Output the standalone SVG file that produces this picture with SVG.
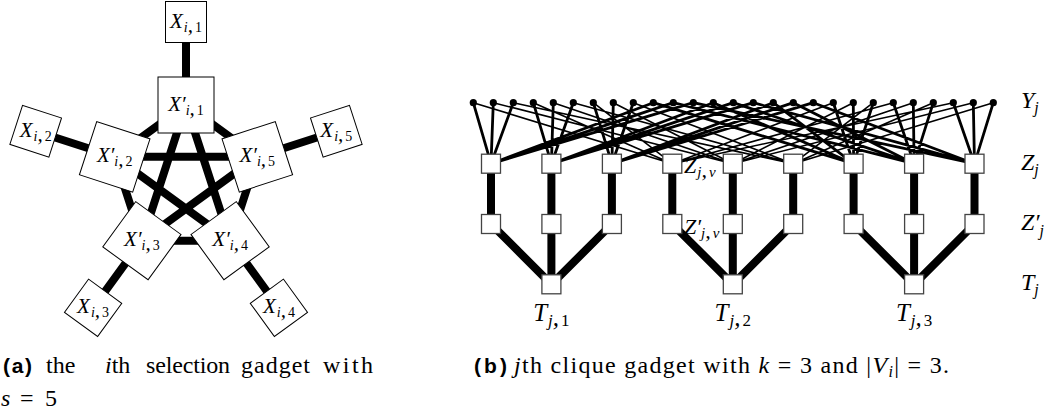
<svg xmlns="http://www.w3.org/2000/svg" width="1057" height="416" viewBox="0 0 1057 416">
<defs>
<style>
.box{fill:#fff;stroke:#000;stroke-width:1}
.sq{fill:#fff;stroke:#444;stroke-width:1.3}
.e8{stroke:#000;stroke-width:8;fill:none}
.thk{stroke:#000;stroke-width:2.8;fill:none}
.thn{stroke:#000;stroke-width:1.6;fill:none}
.m{font-family:"Liberation Serif",serif;font-style:italic;fill:#000}
.r{font-family:"Liberation Serif",serif;font-style:normal;fill:#000}
.n{font-style:normal}
.lb{font-family:"Liberation Sans",sans-serif;font-weight:bold;fill:#000}
.dot{fill:#000}
</style>
<rect id="bi" class="box" x="-28" y="-28" width="56" height="56"/>
<rect id="bo" class="box" x="-20.5" y="-20.5" width="41" height="41"/>
<rect id="zs" class="sq" x="-9.5" y="-9.5" width="19" height="19"/>
</defs>

<!-- (a) selection gadget -->
<g id="edges-a" class="e8">
<path d="M186 105L114.7 156.8L141.9 240.7L230.1 240.7L257.3 156.8Z"/>
<path d="M186 105L141.9 240.7M186 105L230.1 240.7M114.7 156.8L230.1 240.7M114.7 156.8L257.3 156.8M141.9 240.7L257.3 156.8"/>
<path d="M186 105L186 22M114.7 156.8L35.7 131.2M141.9 240.7L93.1 307.8M230.1 240.7L278.9 307.8M257.3 156.8L336.3 131.2"/>
</g>
<g id="Xp1"><use href="#bi" transform="translate(186 105)"/><text class="m" x="186" y="110.5" font-size="21" text-anchor="middle">X′<tspan font-size="14" dy="4">i</tspan>,<tspan class="n" font-size="14" dx="2">1</tspan></text></g>
<g id="Xp2"><use href="#bi" transform="translate(114.7 156.8) rotate(-72)"/><text class="m" x="114.7" y="162.3" font-size="21" text-anchor="middle">X′<tspan font-size="14" dy="4">i</tspan>,<tspan class="n" font-size="14" dx="2">2</tspan></text></g>
<g id="Xp3"><use href="#bi" transform="translate(141.9 240.7) rotate(-144)"/><text class="m" x="141.9" y="246.2" font-size="21" text-anchor="middle">X′<tspan font-size="14" dy="4">i</tspan>,<tspan class="n" font-size="14" dx="2">3</tspan></text></g>
<g id="Xp4"><use href="#bi" transform="translate(230.1 240.7) rotate(-216)"/><text class="m" x="230.1" y="246.2" font-size="21" text-anchor="middle">X′<tspan font-size="14" dy="4">i</tspan>,<tspan class="n" font-size="14" dx="2">4</tspan></text></g>
<g id="Xp5"><use href="#bi" transform="translate(257.3 156.8) rotate(-288)"/><text class="m" x="257.3" y="162.3" font-size="21" text-anchor="middle">X′<tspan font-size="14" dy="4">i</tspan>,<tspan class="n" font-size="14" dx="2">5</tspan></text></g>
<g id="X1"><use href="#bo" transform="translate(186 22)"/><text class="m" x="186" y="27.5" font-size="21" text-anchor="middle">X<tspan font-size="14" dx="1" dy="4">i</tspan>,<tspan class="n" font-size="14" dx="2">1</tspan></text></g>
<g id="X2"><use href="#bo" transform="translate(35.7 131.2) rotate(-72)"/><text class="m" x="35.7" y="136.7" font-size="21" text-anchor="middle">X<tspan font-size="14" dx="1" dy="4">i</tspan>,<tspan class="n" font-size="14" dx="2">2</tspan></text></g>
<g id="X3"><use href="#bo" transform="translate(93.1 307.8) rotate(-144)"/><text class="m" x="93.1" y="313.3" font-size="21" text-anchor="middle">X<tspan font-size="14" dx="1" dy="4">i</tspan>,<tspan class="n" font-size="14" dx="2">3</tspan></text></g>
<g id="X4"><use href="#bo" transform="translate(278.9 307.8) rotate(-216)"/><text class="m" x="278.9" y="313.3" font-size="21" text-anchor="middle">X<tspan font-size="14" dx="1" dy="4">i</tspan>,<tspan class="n" font-size="14" dx="2">4</tspan></text></g>
<g id="X5"><use href="#bo" transform="translate(336.3 131.2) rotate(-288)"/><text class="m" x="336.3" y="136.7" font-size="21" text-anchor="middle">X<tspan font-size="14" dx="1" dy="4">i</tspan>,<tspan class="n" font-size="14" dx="2">5</tspan></text></g>

<!-- (b) clique gadget -->
<g id="edges-b">
<path class="thk" d="M473.3 102.7L491 163.7M493.3 102.7L491 163.7M513.3 102.7L491 163.7M533.3 102.7L551.4 163.7M553.3 102.7L551.4 163.7M573.3 102.7L551.4 163.7M593.3 102.7L611.9 163.7M613.3 102.7L611.9 163.7M633.3 102.7L611.9 163.7M653.3 102.7L491 163.7M673.3 102.7L491 163.7M693.3 102.7L491 163.7M713.3 102.7L551.4 163.7M733.3 102.7L551.4 163.7M753.3 102.7L551.4 163.7M773.3 102.7L611.9 163.7M793.3 102.7L611.9 163.7M813.3 102.7L611.9 163.7M653.3 102.7L853.6 163.7M673.3 102.7L914.1 163.7M693.3 102.7L974.5 163.7M713.3 102.7L853.6 163.7M733.3 102.7L914.1 163.7M753.3 102.7L974.5 163.7M773.3 102.7L853.6 163.7M793.3 102.7L914.1 163.7M813.3 102.7L974.5 163.7M833.3 102.7L853.6 163.7M853.3 102.7L853.6 163.7M873.3 102.7L853.6 163.7M893.3 102.7L914.1 163.7M913.3 102.7L914.1 163.7M933.3 102.7L914.1 163.7M953.3 102.7L974.5 163.7M973.3 102.7L974.5 163.7M993.3 102.7L974.5 163.7"/>
<path class="thn" d="M473.3 102.7L672.3 163.7M493.3 102.7L732.8 163.7M513.3 102.7L793.2 163.7M533.3 102.7L672.3 163.7M553.3 102.7L732.8 163.7M573.3 102.7L793.2 163.7M593.3 102.7L672.3 163.7M613.3 102.7L732.8 163.7M633.3 102.7L793.2 163.7M833.3 102.7L672.3 163.7M853.3 102.7L732.8 163.7M873.3 102.7L793.2 163.7M893.3 102.7L672.3 163.7M913.3 102.7L732.8 163.7M933.3 102.7L793.2 163.7M953.3 102.7L672.3 163.7M973.3 102.7L732.8 163.7M993.3 102.7L793.2 163.7"/>
<path class="e8" d="M491 163.7V224M551.4 163.7V224M611.9 163.7V224M672.3 163.7V224M732.8 163.7V224M793.2 163.7V224M853.6 163.7V224M914.1 163.7V224M974.5 163.7V224"/>
<path class="e8" d="M491 224L551.4 284.3M551.4 224V284.3M611.9 224L551.4 284.3M672.3 224L732.8 284.3M732.8 224V284.3M793.2 224L732.8 284.3M853.6 224L914.1 284.3M914.1 224V284.3M974.5 224L914.1 284.3"/>
</g>
<g id="Y">
<circle class="dot" cx="473.3" cy="102.7" r="3.6"/><circle class="dot" cx="493.3" cy="102.7" r="3.6"/><circle class="dot" cx="513.3" cy="102.7" r="3.6"/><circle class="dot" cx="533.3" cy="102.7" r="3.6"/><circle class="dot" cx="553.3" cy="102.7" r="3.6"/><circle class="dot" cx="573.3" cy="102.7" r="3.6"/><circle class="dot" cx="593.3" cy="102.7" r="3.6"/><circle class="dot" cx="613.3" cy="102.7" r="3.6"/><circle class="dot" cx="633.3" cy="102.7" r="3.6"/><circle class="dot" cx="653.3" cy="102.7" r="3.6"/><circle class="dot" cx="673.3" cy="102.7" r="3.6"/><circle class="dot" cx="693.3" cy="102.7" r="3.6"/><circle class="dot" cx="713.3" cy="102.7" r="3.6"/><circle class="dot" cx="733.3" cy="102.7" r="3.6"/><circle class="dot" cx="753.3" cy="102.7" r="3.6"/><circle class="dot" cx="773.3" cy="102.7" r="3.6"/><circle class="dot" cx="793.3" cy="102.7" r="3.6"/><circle class="dot" cx="813.3" cy="102.7" r="3.6"/><circle class="dot" cx="833.3" cy="102.7" r="3.6"/><circle class="dot" cx="853.3" cy="102.7" r="3.6"/><circle class="dot" cx="873.3" cy="102.7" r="3.6"/><circle class="dot" cx="893.3" cy="102.7" r="3.6"/><circle class="dot" cx="913.3" cy="102.7" r="3.6"/><circle class="dot" cx="933.3" cy="102.7" r="3.6"/><circle class="dot" cx="953.3" cy="102.7" r="3.6"/><circle class="dot" cx="973.3" cy="102.7" r="3.6"/><circle class="dot" cx="993.3" cy="102.7" r="3.6"/>
</g>
<g id="Z">
<use href="#zs" x="491" y="163.7"/><use href="#zs" x="551.4" y="163.7"/><use href="#zs" x="611.9" y="163.7"/><use href="#zs" x="672.3" y="163.7"/><use href="#zs" x="732.8" y="163.7"/><use href="#zs" x="793.2" y="163.7"/><use href="#zs" x="853.6" y="163.7"/><use href="#zs" x="914.1" y="163.7"/><use href="#zs" x="974.5" y="163.7"/>
<text class="m" x="684" y="173" font-size="22">Z<tspan font-size="15" dx="1" dy="4">j</tspan>,<tspan font-size="15" dx="2">v</tspan></text>
</g>
<g id="Zp">
<use href="#zs" x="491" y="224"/><use href="#zs" x="551.4" y="224"/><use href="#zs" x="611.9" y="224"/><use href="#zs" x="672.3" y="224"/><use href="#zs" x="732.8" y="224"/><use href="#zs" x="793.2" y="224"/><use href="#zs" x="853.6" y="224"/><use href="#zs" x="914.1" y="224"/><use href="#zs" x="974.5" y="224"/>
<text class="m" x="684" y="234" font-size="22">Z′<tspan font-size="15" dy="4">j</tspan>,<tspan font-size="15" dx="2">v</tspan></text>
</g>
<g id="T1"><use href="#zs" x="551.4" y="284.3"/><text class="m" x="551.4" y="321" font-size="25" text-anchor="middle">T<tspan font-size="17" dx="1" dy="5">j</tspan>,<tspan class="n" font-size="17" dx="2">1</tspan></text></g>
<g id="T2"><use href="#zs" x="732.8" y="284.3"/><text class="m" x="732.8" y="321" font-size="25" text-anchor="middle">T<tspan font-size="17" dx="1" dy="5">j</tspan>,<tspan class="n" font-size="17" dx="2">2</tspan></text></g>
<g id="T3"><use href="#zs" x="914.1" y="284.3"/><text class="m" x="914.1" y="321" font-size="25" text-anchor="middle">T<tspan font-size="17" dx="1" dy="5">j</tspan>,<tspan class="n" font-size="17" dx="2">3</tspan></text></g>
<g id="row-labels" class="m" font-size="24">
<text x="1021" y="108">Y<tspan font-size="16" dy="5">j</tspan></text>
<text x="1021" y="170">Z<tspan font-size="16" dy="5">j</tspan></text>
<text x="1021" y="230">Z′<tspan font-size="16" dy="6">j</tspan></text>
<text x="1021" y="290">T<tspan font-size="16" dy="5">j</tspan></text>
</g>

<!-- captions -->
<g id="caption-a" font-size="24">
<text class="lb" x="3" y="373" font-size="21" textLength="29">(a)</text>
<text class="r" x="46" y="373">the</text>
<text class="r" x="105" y="373"><tspan class="m">i</tspan>th</text>
<text class="r" x="146" y="373" textLength="84">selection</text>
<text class="r" x="241" y="373" textLength="69">gadget</text>
<text class="r" x="323" y="373" textLength="50">with</text>
<text class="m" x="1" y="406">s</text>
<text class="r" x="20" y="406">=</text>
<text class="r" x="45" y="406">5</text>
</g>
<g id="caption-b" font-size="24">
<text class="lb" x="474" y="373" font-size="21" textLength="33">(b)</text>
<text class="r" x="514" y="373" textLength="435"><tspan class="m">j</tspan>th clique gadget with <tspan class="m">k</tspan> = 3 and |<tspan class="m">V</tspan><tspan class="m" font-size="16" dy="4">i</tspan><tspan dy="-4">| = 3.</tspan></text>
</g>
</svg>
